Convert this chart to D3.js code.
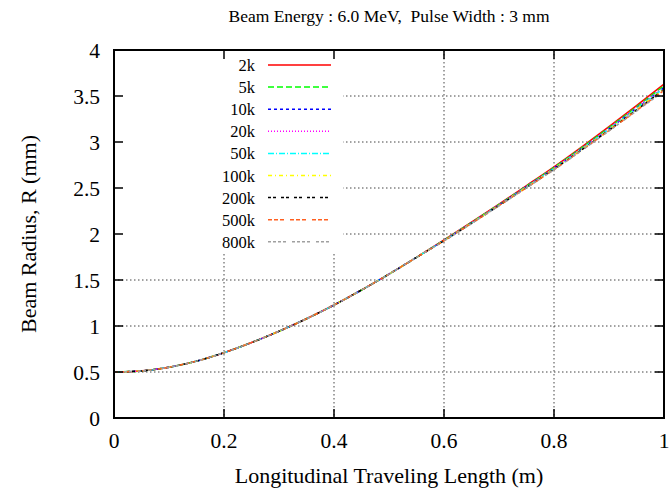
<!DOCTYPE html>
<html>
<head>
  <meta charset="utf-8">
  <title>Beam Radius</title>
  <style>
    body { margin: 0; background: #fff; }
  </style>
</head>
<body>
  <svg id="chart" width="672" height="490"></svg>

  <script src="https://d3js.org/d3.v7.min.js"></script>
  <script>
    // data
    const xs = [0, 0.05, 0.1, 0.15, 0.2, 0.25, 0.3, 0.35, 0.4, 0.45, 0.5,
                0.55, 0.6, 0.65, 0.7, 0.75, 0.8, 0.85, 0.9, 0.95, 1.0];
    // all runs overlap up to ~0.55 m
    const head = [0.500, 0.512, 0.552, 0.618, 0.710, 0.820, 0.943, 1.079, 1.228, 1.391, 1.564, 1.746];

    const r2k   = head.concat([1.935, 2.128, 2.325, 2.526, 2.730, 2.945, 3.167, 3.396, 3.630]);
    const r5k   = head.concat([1.933, 2.125, 2.321, 2.521, 2.723, 2.936, 3.156, 3.382, 3.612]);
    const r10k  = head.concat([1.930, 2.120, 2.315, 2.514, 2.714, 2.925, 3.143, 3.366, 3.590]);
    const r20k  = head.concat([1.931, 2.122, 2.317, 2.516, 2.717, 2.928, 3.147, 3.371, 3.595]);
    const r50k  = head.concat([1.929, 2.119, 2.313, 2.511, 2.711, 2.921, 3.138, 3.360, 3.585]);
    const r100k = head.concat([1.928, 2.118, 2.311, 2.508, 2.708, 2.917, 3.133, 3.354, 3.578]);
    const r200k = head.concat([1.927, 2.116, 2.309, 2.505, 2.704, 2.913, 3.128, 3.347, 3.570]);
    const r500k = head.concat([1.926, 2.115, 2.308, 2.503, 2.701, 2.909, 3.124, 3.341, 3.562]);
    const r800k = head.concat([1.925, 2.114, 2.306, 2.501, 2.698, 2.906, 3.120, 3.336, 3.555]);

    const seriesNames = ["2k", "5k", "10k", "20k", "50k", "100k", "200k", "500k", "800k"];
    const seriesValues = [r2k, r5k, r10k, r20k, r50k, r100k, r200k, r500k, r800k];
    const seriesColors = ["#ff0000", "#00ff00", "#0000ff", "#ff00ff", "#00ffff",
                          "#ffff00", "#000000", "#ff6020", "#a0a0a0"];
    const seriesDash = ["", "6,3", "3,3", "1,2", "6,2,1,2", "4,3,1,3",
                        "3,2,3,5", "4,2,4,2,4,6", "3,2,3,2,3,2,3,6"];

    const xTicks = [0, 0.2, 0.4, 0.6, 0.8, 1];
    const yTicks = [0, 0.5, 1, 1.5, 2, 2.5, 3, 3.5, 4];

    const svg = d3.select("#chart");
    const pLeft = 114, pRight = 664, pTop = 50, pBottom = 418;

    const x = d3.scaleLinear().domain([0, 1]).range([pLeft, pRight]);
    const y = d3.scaleLinear().domain([0, 4]).range([pBottom, pTop]);

    // helper: serif text
    function label(parent, size) {
      return parent.append("text")
        .attr("style", `font-family:'Liberation Serif';font-size:${size}px`);
    }

    // grid
    const grid = svg.append("g")
      .attr("stroke", "#444")
      .attr("stroke-width", 1)
      .attr("stroke-dasharray", "1.5,2.5");
    grid.selectAll(".gx").data(xTicks.slice(1, -1)).join("line")
      .attr("x1", d => x(d)).attr("x2", d => x(d))
      .attr("y1", pTop).attr("y2", pBottom);
    grid.selectAll(".gy").data(yTicks.slice(1, -1)).join("line")
      .attr("x1", pLeft).attr("x2", pRight)
      .attr("y1", d => y(d)).attr("y2", d => y(d));

    // legend box background (hides the grid)
    svg.append("rect")
      .attr("x", pLeft + 1).attr("y", pTop + 1)
      .attr("width", 228).attr("height", 203)
      .attr("fill", "#fff");

    // curves
    const line = d3.line()
      .x((d, i) => x(xs[i]))
      .y(d => y(d))
      .curve(d3.curveMonotoneX);

    svg.append("g").selectAll("path")
      .data(seriesValues).join("path")
      .attr("fill", "none")
      .attr("stroke", (d, i) => seriesColors[i])
      .attr("stroke-width", 1.5)
      .attr("stroke-dasharray", (d, i) => seriesDash[i])
      .attr("d", line);

    // ticks, mirrored on all sides
    const tickLen = 9;
    const ticks = svg.append("g").attr("stroke", "#000").attr("stroke-width", 1.5);
    xTicks.forEach(t => {
      ticks.append("line").attr("x1", x(t)).attr("x2", x(t)).attr("y1", pBottom).attr("y2", pBottom - tickLen);
      ticks.append("line").attr("x1", x(t)).attr("x2", x(t)).attr("y1", pTop).attr("y2", pTop + tickLen);
    });
    yTicks.forEach(t => {
      ticks.append("line").attr("x1", pLeft).attr("x2", pLeft + tickLen).attr("y1", y(t)).attr("y2", y(t));
      ticks.append("line").attr("x1", pRight).attr("x2", pRight - tickLen).attr("y1", y(t)).attr("y2", y(t));
    });

    // frame
    svg.append("rect")
      .attr("x", pLeft).attr("y", pTop)
      .attr("width", pRight - pLeft).attr("height", pBottom - pTop)
      .attr("fill", "none").attr("stroke", "#000").attr("stroke-width", 2);

    // tick labels
    const xLab = svg.append("g");
    xTicks.forEach(t => {
      label(xLab, 21.5)
        .attr("x", x(t)).attr("y", 448)
        .attr("text-anchor", "middle")
        .text(d3.format("~g")(t));
    });
    const yLab = svg.append("g");
    yTicks.forEach(t => {
      label(yLab, 21.5)
        .attr("x", 100).attr("y", y(t) + 7.5)
        .attr("text-anchor", "end")
        .text(d3.format("~g")(t));
    });

    // titles
    label(svg, 17.5)
      .attr("x", (pLeft + pRight) / 2).attr("y", 22)
      .attr("text-anchor", "middle")
      .attr("xml:space", "preserve")
      .text("Beam Energy : 6.0 MeV,  Pulse Width : 3 mm");
    label(svg, 22)
      .attr("x", (pLeft + pRight) / 2).attr("y", 483)
      .attr("text-anchor", "middle")
      .text("Longitudinal Traveling Length (m)");
    label(svg, 22)
      .attr("transform", `translate(36,${(pTop + pBottom) / 2}) rotate(-90)`)
      .attr("text-anchor", "middle")
      .text("Beam Radius, R (mm)");

    // legend
    const legend = svg.append("g");
    seriesNames.forEach((name, i) => {
      const ly = 65 + i * 22.1;
      label(legend, 16.5)
        .attr("x", 255).attr("y", ly + 6)
        .attr("text-anchor", "end")
        .text(name);
      legend.append("line")
        .attr("x1", 268).attr("x2", 331)
        .attr("y1", ly).attr("y2", ly)
        .attr("stroke", seriesColors[i])
        .attr("stroke-width", 1.5)
        .attr("stroke-dasharray", seriesDash[i]);
    });
  </script>
</body>
</html>
